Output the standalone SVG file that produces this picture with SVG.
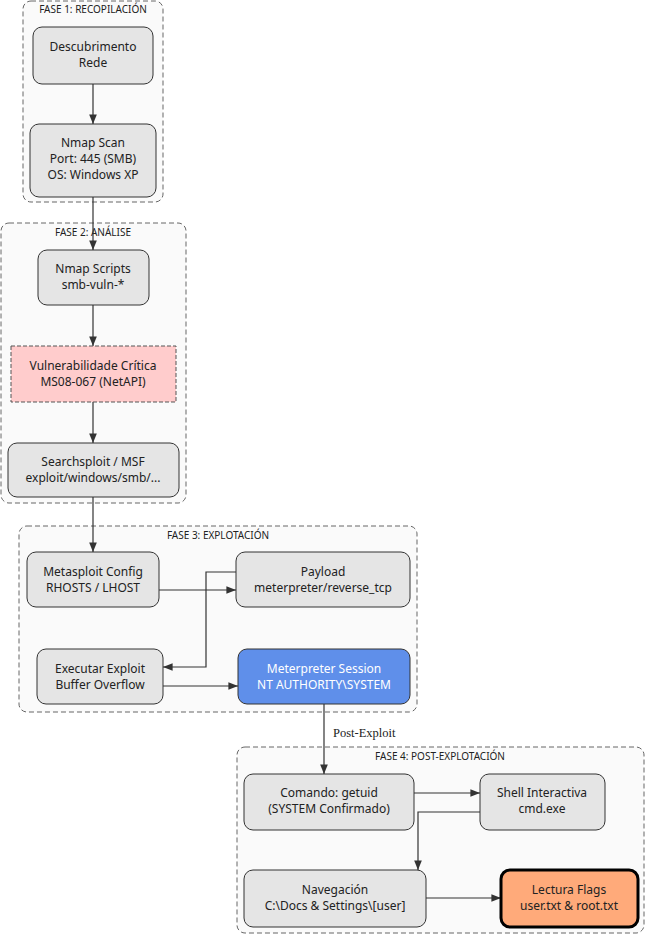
<svg xmlns="http://www.w3.org/2000/svg" width="645" height="935" viewBox="0 0 645 935">
<style>
text{font-family:"Noto Sans","Open Sans",sans-serif;font-size:12px;fill:#222;text-anchor:middle}
.cl{fill:#fafafa;stroke:#666;stroke-dasharray:5 3;stroke-width:1}
.cll{font-size:10px}
.n{fill:#e5e5e5;stroke:#333;stroke-width:1}
.e{fill:none;stroke:#333;stroke-width:1.2;marker-end:url(#a)}
</style>
<defs><marker id="a" viewBox="0 0 10 10" refX="10" refY="5" markerWidth="8" markerHeight="8" orient="auto"><path d="M0,1L10,5L0,9z" fill="#333"/></marker></defs>
<rect width="645" height="935" fill="#fff"/>
<g id="clusters">
<rect class="cl" x="23" y="1" width="140" height="201" rx="8"/><text class="cll" x="93" y="13">FASE 1: RECOPILACIÓN</text>
<rect class="cl" x="1" y="223" width="185" height="280" rx="8"/><text class="cll" x="93" y="236">FASE 2: ANÁLISE</text>
<rect class="cl" x="19" y="526" width="398" height="186" rx="8"/><text class="cll" x="218" y="539">FASE 3: EXPLOTACIÓN</text>
<rect class="cl" x="237" y="747" width="407" height="186" rx="8"/><text class="cll" x="440" y="760">FASE 4: POST-EXPLOTACIÓN</text>
</g>
<g id="edges">
<path class="e" d="M93,84V124"/>
<path class="e" d="M93,197V250"/>
<path class="e" d="M93,305V346"/>
<path class="e" d="M93,402V443"/>
<path class="e" d="M93,497V552"/>
<path class="e" d="M159,590H236"/>
<path class="e" d="M236,572H206V667H163"/>
<path class="e" d="M163,686H238"/>
<path class="e" d="M324,704V774"/>
<text x="333" y="737" style="font-family:'Liberation Serif',serif;font-size:12.5px;text-anchor:start">Post-Exploit</text>
<path class="e" d="M414,793H480"/>
<path class="e" d="M480,812H418V870"/>
<path class="e" d="M426,898H501"/>
</g>
<g id="n1"><rect class="n" x="33" y="27" width="120" height="57" rx="9"/><text x="93" y="51">Descubrimento</text><text x="93" y="67">Rede</text></g>
<g id="n2"><rect class="n" x="30" y="124" width="126" height="73" rx="9"/><text x="93" y="147">Nmap Scan</text><text x="93" y="163">Port: 445 (SMB)</text><text x="93" y="179">OS: Windows XP</text></g>
<g id="n3"><rect class="n" x="38" y="250" width="111" height="55" rx="9"/><text x="93" y="273">Nmap Scripts</text><text x="93" y="289">smb-vuln-*</text></g>
<g id="n4"><rect x="11" y="346" width="165" height="56" fill="#ffcccc" stroke="#555" stroke-dasharray="4 2"/><text x="93" y="370">Vulnerabilidade Crítica</text><text x="93" y="386">MS08-067 (NetAPI)</text></g>
<g id="n5"><rect class="n" x="8" y="443" width="171" height="54" rx="9"/><text x="93" y="466">Searchsploit / MSF</text><text x="93" y="482">exploit/windows/smb/...</text></g>
<g id="n6"><rect class="n" x="27" y="552" width="132" height="55" rx="9"/><text x="93" y="576">Metasploit Config</text><text x="93" y="592">RHOSTS / LHOST</text></g>
<g id="n7"><rect class="n" x="236" y="552" width="174" height="55" rx="9"/><text x="323" y="576">Payload</text><text x="323" y="592">meterpreter/reverse_tcp</text></g>
<g id="n8"><rect class="n" x="37" y="649" width="126" height="55" rx="9"/><text x="100" y="673">Executar Exploit</text><text x="100" y="689">Buffer Overflow</text></g>
<g id="n9"><rect x="238" y="649" width="172" height="55" rx="9" fill="#5f8fea" stroke="#333"/><text x="324" y="673" style="fill:#fff">Meterpreter Session</text><text x="324" y="689" style="fill:#fff">NT AUTHORITY\SYSTEM</text></g>
<g id="n10"><rect class="n" x="244" y="774" width="170" height="56" rx="9"/><text x="329" y="797">Comando: getuid</text><text x="329" y="813">(SYSTEM Confirmado)</text></g>
<g id="n11"><rect class="n" x="480" y="774" width="125" height="56" rx="9"/><text x="542" y="797">Shell Interactiva</text><text x="542" y="813">cmd.exe</text></g>
<g id="n12"><rect class="n" x="244" y="870" width="182" height="57" rx="9"/><text x="335" y="894">Navegación</text><text x="335" y="910">C:\Docs &amp; Settings\[user]</text></g>
<g id="n13"><rect x="501" y="870" width="137" height="57" rx="9" fill="#ffaa7a" stroke="#000" stroke-width="3"/><text x="569" y="894">Lectura Flags</text><text x="569" y="910">user.txt &amp; root.txt</text></g>
</svg>
